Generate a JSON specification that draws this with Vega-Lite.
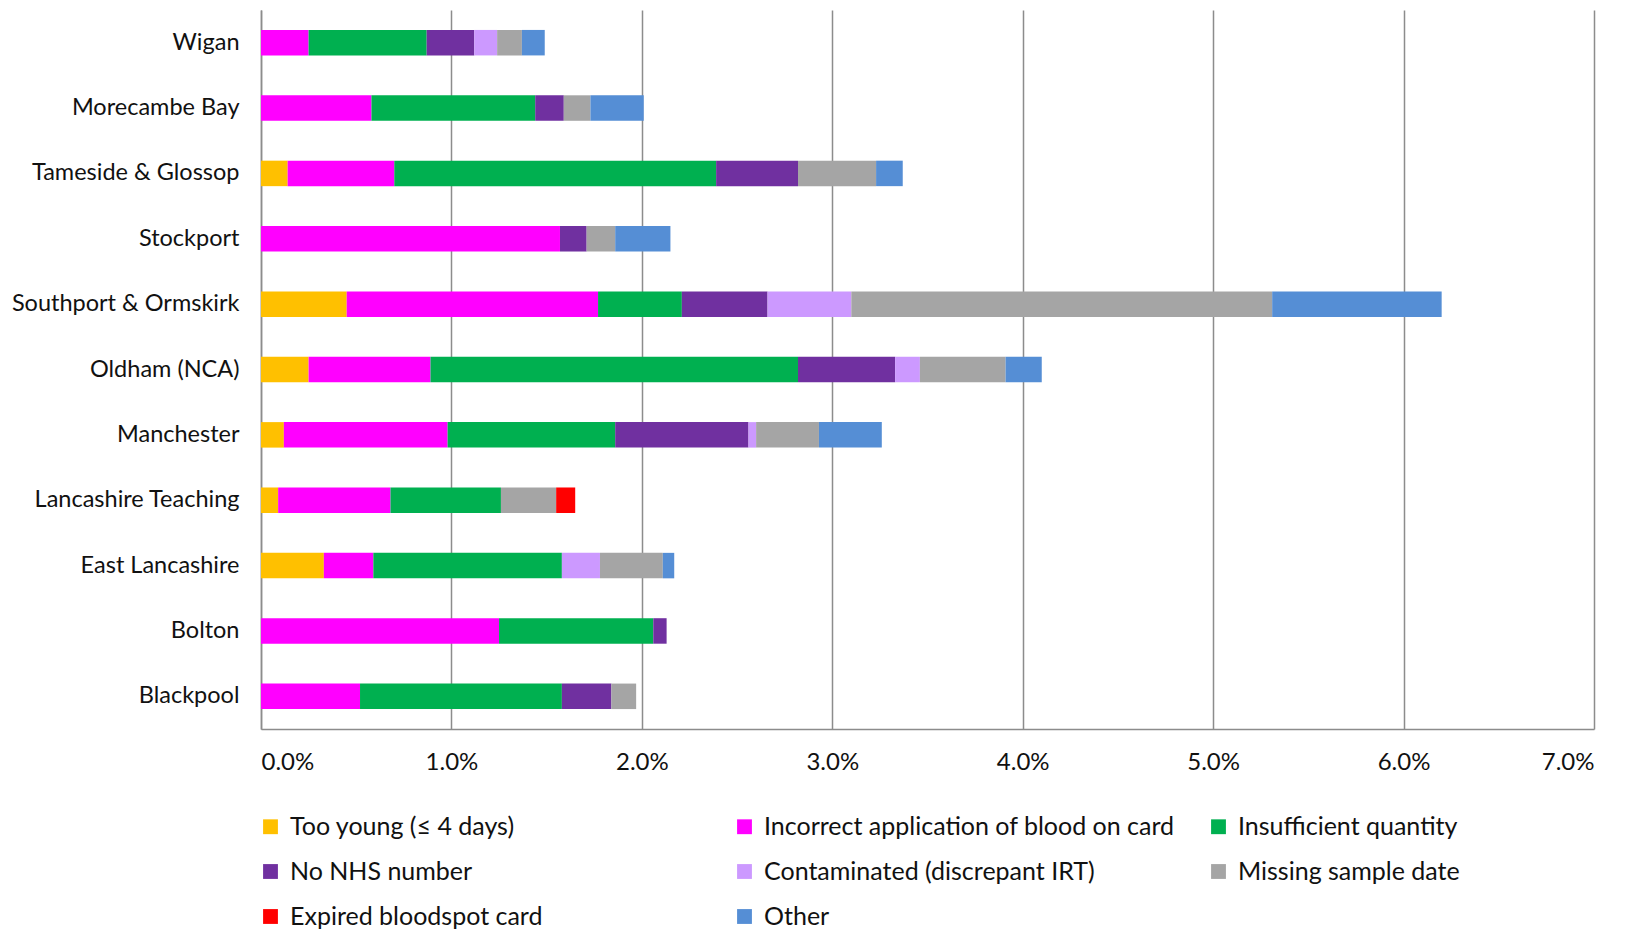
{
  "$schema": "https://vega.github.io/schema/vega-lite/v6.json",
  "autosize": {"type": "none"},
  "width": 1333,
  "height": 719,
  "padding": {"left": 261, "top": 10, "right": 39, "bottom": 203},
  "background": "white",
  "config": {
    "font": "Lato",
    "view": {"stroke": null}
  },
  "data": {
    "values": [
      {"site": "Wigan", "cause": "Incorrect application of blood on card", "value": 0.0025},
      {"site": "Wigan", "cause": "Insufficient quantity", "value": 0.0062},
      {"site": "Wigan", "cause": "No NHS number", "value": 0.0025},
      {"site": "Wigan", "cause": "Contaminated (discrepant IRT)", "value": 0.0012},
      {"site": "Wigan", "cause": "Missing sample date", "value": 0.0013},
      {"site": "Wigan", "cause": "Other", "value": 0.0012},

      {"site": "Morecambe Bay", "cause": "Incorrect application of blood on card", "value": 0.0058},
      {"site": "Morecambe Bay", "cause": "Insufficient quantity", "value": 0.0086},
      {"site": "Morecambe Bay", "cause": "No NHS number", "value": 0.0015},
      {"site": "Morecambe Bay", "cause": "Missing sample date", "value": 0.0014},
      {"site": "Morecambe Bay", "cause": "Other", "value": 0.0028},

      {"site": "Tameside & Glossop", "cause": "Too young (≤ 4 days)", "value": 0.0014},
      {"site": "Tameside & Glossop", "cause": "Incorrect application of blood on card", "value": 0.0056},
      {"site": "Tameside & Glossop", "cause": "Insufficient quantity", "value": 0.0169},
      {"site": "Tameside & Glossop", "cause": "No NHS number", "value": 0.0043},
      {"site": "Tameside & Glossop", "cause": "Missing sample date", "value": 0.0041},
      {"site": "Tameside & Glossop", "cause": "Other", "value": 0.0014},

      {"site": "Stockport", "cause": "Incorrect application of blood on card", "value": 0.0157},
      {"site": "Stockport", "cause": "No NHS number", "value": 0.0014},
      {"site": "Stockport", "cause": "Missing sample date", "value": 0.0015},
      {"site": "Stockport", "cause": "Other", "value": 0.0029},

      {"site": "Southport & Ormskirk", "cause": "Too young (≤ 4 days)", "value": 0.0045},
      {"site": "Southport & Ormskirk", "cause": "Incorrect application of blood on card", "value": 0.0132},
      {"site": "Southport & Ormskirk", "cause": "Insufficient quantity", "value": 0.0044},
      {"site": "Southport & Ormskirk", "cause": "No NHS number", "value": 0.0045},
      {"site": "Southport & Ormskirk", "cause": "Contaminated (discrepant IRT)", "value": 0.0044},
      {"site": "Southport & Ormskirk", "cause": "Missing sample date", "value": 0.0221},
      {"site": "Southport & Ormskirk", "cause": "Other", "value": 0.0089},

      {"site": "Oldham (NCA)", "cause": "Too young (≤ 4 days)", "value": 0.0025},
      {"site": "Oldham (NCA)", "cause": "Incorrect application of blood on card", "value": 0.0064},
      {"site": "Oldham (NCA)", "cause": "Insufficient quantity", "value": 0.0193},
      {"site": "Oldham (NCA)", "cause": "No NHS number", "value": 0.0051},
      {"site": "Oldham (NCA)", "cause": "Contaminated (discrepant IRT)", "value": 0.0013},
      {"site": "Oldham (NCA)", "cause": "Missing sample date", "value": 0.0045},
      {"site": "Oldham (NCA)", "cause": "Other", "value": 0.0019},

      {"site": "Manchester", "cause": "Too young (≤ 4 days)", "value": 0.0012},
      {"site": "Manchester", "cause": "Incorrect application of blood on card", "value": 0.0086},
      {"site": "Manchester", "cause": "Insufficient quantity", "value": 0.0088},
      {"site": "Manchester", "cause": "No NHS number", "value": 0.0070},
      {"site": "Manchester", "cause": "Contaminated (discrepant IRT)", "value": 0.0004},
      {"site": "Manchester", "cause": "Missing sample date", "value": 0.0033},
      {"site": "Manchester", "cause": "Other", "value": 0.0033},

      {"site": "Lancashire Teaching", "cause": "Too young (≤ 4 days)", "value": 0.0009},
      {"site": "Lancashire Teaching", "cause": "Incorrect application of blood on card", "value": 0.0059},
      {"site": "Lancashire Teaching", "cause": "Insufficient quantity", "value": 0.0058},
      {"site": "Lancashire Teaching", "cause": "Missing sample date", "value": 0.0029},
      {"site": "Lancashire Teaching", "cause": "Expired bloodspot card", "value": 0.0010},

      {"site": "East Lancashire", "cause": "Too young (≤ 4 days)", "value": 0.0033},
      {"site": "East Lancashire", "cause": "Incorrect application of blood on card", "value": 0.0026},
      {"site": "East Lancashire", "cause": "Insufficient quantity", "value": 0.0099},
      {"site": "East Lancashire", "cause": "Contaminated (discrepant IRT)", "value": 0.0020},
      {"site": "East Lancashire", "cause": "Missing sample date", "value": 0.0033},
      {"site": "East Lancashire", "cause": "Other", "value": 0.0006},

      {"site": "Bolton", "cause": "Incorrect application of blood on card", "value": 0.0125},
      {"site": "Bolton", "cause": "Insufficient quantity", "value": 0.0081},
      {"site": "Bolton", "cause": "No NHS number", "value": 0.0007},

      {"site": "Blackpool", "cause": "Incorrect application of blood on card", "value": 0.0052},
      {"site": "Blackpool", "cause": "Insufficient quantity", "value": 0.0106},
      {"site": "Blackpool", "cause": "No NHS number", "value": 0.0026},
      {"site": "Blackpool", "cause": "Missing sample date", "value": 0.0013}
    ]
  },
  "transform": [
    {
      "calculate": "indexof(['Too young (≤ 4 days)', 'Incorrect application of blood on card', 'Insufficient quantity', 'No NHS number', 'Contaminated (discrepant IRT)', 'Missing sample date', 'Expired bloodspot card', 'Other'], datum.cause)",
      "as": "stackRank"
    }
  ],
  "mark": {"type": "bar"},
  "encoding": {
    "y": {
      "field": "site",
      "type": "nominal",
      "sort": null,
      "scale": {"paddingInner": 0.61, "paddingOuter": 0.305},
      "axis": {
        "title": null,
        "ticks": false,
        "domain": true,
        "domainColor": "#8c8c8c",
        "domainWidth": 1.5,
        "labelFont": "Lato",
        "labelFontSize": 23.5,
        "labelColor": "#111111",
        "labelPadding": 22,
        "labelLimit": 400
      }
    },
    "x": {
      "field": "value",
      "type": "quantitative",
      "stack": "zero",
      "scale": {"domain": [0, 0.07], "nice": false},
      "axis": {
        "title": null,
        "format": ".1%",
        "values": [0, 0.01, 0.02, 0.03, 0.04, 0.05, 0.06, 0.07],
        "grid": true,
        "gridColor": "#8c8c8c",
        "gridWidth": 1.5,
        "ticks": false,
        "domainColor": "#8c8c8c",
        "domainWidth": 1.5,
        "labelFont": "Lato",
        "labelFontSize": 24,
        "labelColor": "#111111",
        "labelPadding": 21
      }
    },
    "order": {"field": "stackRank", "type": "quantitative", "sort": "ascending"},
    "color": {
      "field": "cause",
      "type": "nominal",
      "scale": {
        "domain": ["Too young (≤ 4 days)", "Incorrect application of blood on card", "Insufficient quantity", "No NHS number", "Contaminated (discrepant IRT)", "Missing sample date", "Expired bloodspot card", "Other"],
        "range": ["#FFC000", "#FF00FF", "#00B050", "#7030A0", "#CC99FF", "#A5A5A5", "#FF0000", "#558ED5"]
      },
      "legend": {
        "title": null,
        "orient": "none",
        "legendX": -3,
        "legendY": 804,
        "direction": "horizontal",
        "columns": 3,
        "gridAlign": "all",
        "columnPadding": 31,
        "rowPadding": 19,
        "symbolType": "square",
        "symbolSize": 220,
        "symbolStrokeWidth": 0,
        "labelFont": "Lato",
        "labelFontSize": 25,
        "labelColor": "#111111",
        "labelOffset": 7,
        "labelLimit": 600
      }
    }
  }
}
